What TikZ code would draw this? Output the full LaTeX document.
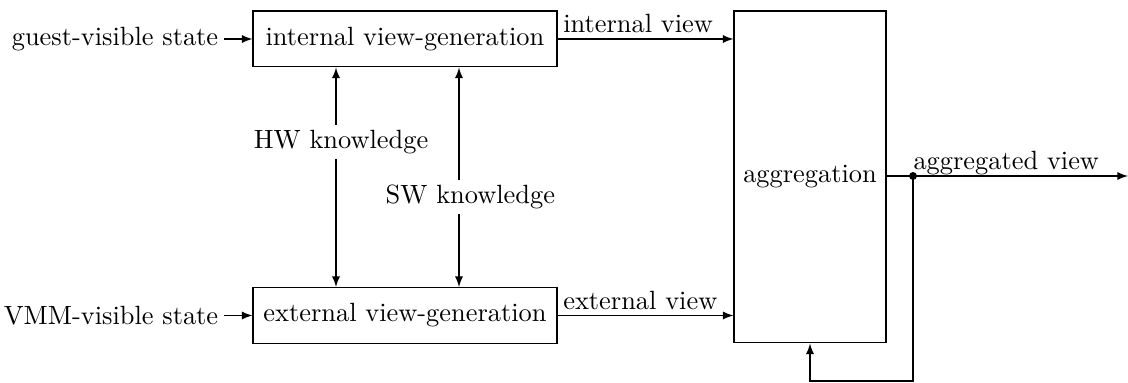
\documentclass[tikz,border=0pt]{standalone}
\usetikzlibrary{arrows}
\begin{document}
\begin{tikzpicture}[x=0.379pt,y=-0.379pt,
  block/.style={draw,rectangle,inner sep=0pt},
  flow/.style={-latex},
  both/.style={latex-latex},
  lbl/.style={fill=white,inner sep=2pt}]
\useasboundingbox (0,0) rectangle (1128,383);
% processing blocks
\node[block,minimum width=115.2pt,minimum height=21.2pt] (int) at (405,39) {internal view-generation};
\node[block,minimum width=115.2pt,minimum height=21.2pt] (ext) at (405,315.5) {external view-generation};
\node[block,minimum width=57.6pt,minimum height=125.8pt] (agg) at (810,177) {aggregation};
% inputs
\node[anchor=east,inner sep=2pt] (gvs) at (224,39) {guest-visible state};
\node[anchor=east,inner sep=2pt] (vvs) at (224,315.5) {VMM-visible state};
\draw[flow] (gvs) -- (int);
\draw[flow] (vvs) -- (ext);
% knowledge links
\coordinate (hwt) at (336,0); \coordinate (swt) at (459,0);
\draw[both] (int.south -| hwt) -- node[lbl,pos=0.34,xshift=1.9pt] (hw) {HW knowledge} (ext.north -| hwt);
\draw[both] (int.south -| swt) -- node[lbl,pos=0.59,xshift=4.3pt] (sw) {SW knowledge} (ext.north -| swt);
% views into aggregation
\draw[flow] (int.east) -- node[pos=0,anchor=south west,inner sep=2pt] (iv) {internal view} (agg.west |- int.east);
\draw[flow] (ext.east) -- node[pos=0,anchor=south west,inner sep=2pt] (ev) {external view} (agg.west |- ext.east);
% output with feedback
\coordinate (split) at (913,176);
\coordinate (out) at (1128,176);
\coordinate (fbr) at (913,381);
\coordinate (fbl) at (810,381);
\draw[flow] (agg.east |- split) -- (out);
\node[anchor=base west,inner sep=0pt] (av) at (913,170) {aggregated view};
\fill (split) circle (1.5pt);
\draw[flow] (split) -- (fbr) -- (fbl) -- (agg.south);
\end{tikzpicture}
\end{document}
